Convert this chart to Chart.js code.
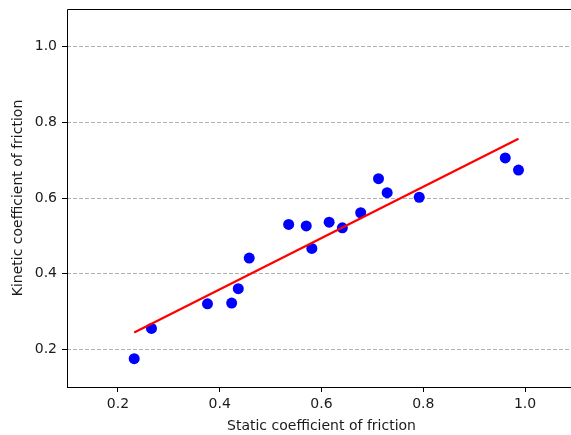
<!DOCTYPE html>
<html>
<head>
<meta charset="utf-8">
<script src="https://cdn.jsdelivr.net/npm/chart.js@4/dist/chart.umd.min.js"></script>
<style>
  html, body { margin: 0; padding: 0; background: #fff; overflow: hidden; }
  #wrap { width: 571px; height: 435px; overflow: hidden; position: relative; }
  canvas { display: block; }
</style>
</head>
<body>
<div id="wrap"><canvas id="c" width="590" height="435"></canvas></div>
<script>
// Measured friction coefficients for each sample
const staticMu  = [0.232, 0.266, 0.376, 0.4235, 0.4365, 0.458, 0.5355, 0.570, 0.581,
                   0.615, 0.641, 0.677, 0.712, 0.729, 0.792, 0.961, 0.987];
const kineticMu = [0.175, 0.255, 0.320, 0.322, 0.360, 0.441, 0.530, 0.526, 0.4665,
                   0.536, 0.521, 0.561, 0.651, 0.614, 0.602, 0.706, 0.674];

// Least-squares fit line end points
const fitX = [0.232, 0.987];
const fitY = [0.244, 0.757];

// Axis ticks
const xTicks = [0.2, 0.4, 0.6, 0.8, 1.0];
const yTicks = [0.2, 0.4, 0.6, 0.8, 1.0];

const FONT = 'DejaVu Sans';
const TXT = '#1a1a1a';

// Solid frame around the plot area (left, bottom, top, right)
const frame = {
  id: 'frame',
  afterDatasetsDraw(chart) {
    const { ctx, chartArea: a } = chart;
    ctx.save();
    ctx.setLineDash([]);
    ctx.strokeStyle = '#000';
    ctx.lineWidth = 1;
    ctx.beginPath();
    ctx.moveTo(a.left + 0.5, a.bottom + 0.5);
    ctx.lineTo(a.left + 0.5, a.top + 0.5);
    ctx.lineTo(a.right, a.top + 0.5);
    ctx.moveTo(a.left, a.bottom + 0.5);
    ctx.lineTo(a.right, a.bottom + 0.5);
    ctx.stroke();
    ctx.restore();
  }
};

new Chart(document.getElementById('c'), {
  data: {
    datasets: [
      {
        type: 'line',
        data: fitX.map((x, i) => ({ x, y: fitY[i] })),
        borderColor: '#ff0000',
        borderWidth: 2.2,
        pointRadius: 0,
        fill: false,
        order: 0
      },
      {
        type: 'scatter',
        data: staticMu.map((x, i) => ({ x, y: kineticMu[i] })),
        backgroundColor: '#0000ff',
        borderWidth: 0,
        pointRadius: 5.5,
        order: 1
      }
    ]
  },
  options: {
    responsive: false,
    animation: false,
    events: [],
    layout: { padding: { left: 0, top: 9, right: 14, bottom: 0 } },
    plugins: { legend: { display: false }, tooltip: { enabled: false } },
    scales: {
      x: {
        type: 'linear',
        min: 0.1,
        max: 1.1,
        afterBuildTicks(s) { s.ticks = xTicks.map(v => ({ value: v })); },
        afterFit(s) { s.height = 48; s.paddingLeft = 0; s.paddingRight = 0; },
        border: { display: false },
        grid: { drawOnChartArea: false, tickLength: 5, tickColor: '#000', tickWidth: 1 },
        ticks: {
          padding: 4,
          color: TXT,
          font: { family: FONT, size: 14 },
          maxRotation: 0,
          callback: v => v.toFixed(1)
        },
        title: {
          display: true,
          text: 'Static coefficient of friction',
          color: TXT,
          font: { family: FONT, size: 14 },
          padding: { top: 0, bottom: 0 }
        }
      },
      y: {
        type: 'linear',
        min: 0.1,
        max: 1.1,
        afterBuildTicks(s) { s.ticks = yTicks.map(v => ({ value: v })); },
        afterFit(s) { s.width = 67; s.paddingTop = 0; s.paddingBottom = 0; },
        border: { display: false, dash: [4, 2] },
        grid: {
          drawOnChartArea: true,
          color: '#b0b0b0',
          lineWidth: 1,
          tickLength: 5,
          tickColor: '#000',
          tickWidth: 1,
          tickBorderDash: [1, 0]
        },
        ticks: {
          padding: 5,
          color: TXT,
          font: { family: FONT, size: 14 },
          callback: v => v.toFixed(1)
        },
        title: {
          display: true,
          text: 'Kinetic coefficient of friction',
          color: TXT,
          font: { family: FONT, size: 14 },
          padding: { top: 10, bottom: 0 }
        }
      }
    }
  },
  plugins: [frame]
});
</script>
</body>
</html>
